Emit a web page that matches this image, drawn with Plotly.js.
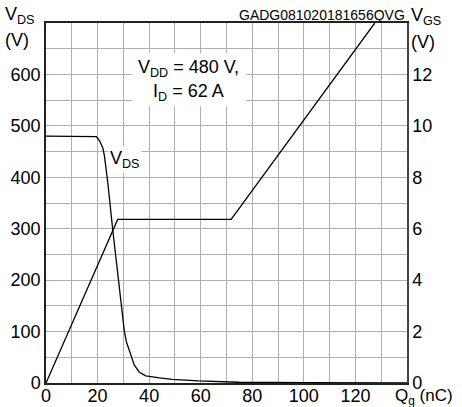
<!DOCTYPE html>
<html>
<head>
<meta charset="utf-8">
<script src="https://cdn.plot.ly/plotly-3.0.1.min.js"></script>
<style>html,body{margin:0;padding:0;background:#fff;}#chart{width:462px;height:407px;}</style>
</head>
<body>
<div id="chart"></div>
<script>
// Gate charge data
const qgVds = [0, 18.2, 19.5, 20.8, 22.1, 22.7, 24, 25.9, 27.5, 29.1, 30.4, 31.2, 32.3, 34.2, 36.2, 38.7, 44, 49, 59.2, 74.6, 100, 130, 140];
const vds   = [480, 480, 479, 471, 456, 440, 388, 297, 228, 161, 100, 80, 64, 35, 21, 14, 10, 7, 4, 1.5, 0.6, 0.2, 0.1];
const qgVgs = [0, 27.8, 71.8, 127.5];
const vgs   = [0, 6.36, 6.36, 14];
const xTicks = [0, 20, 40, 60, 80, 100, 120];
const xGrid = [10, 20, 30, 40, 50, 60, 70, 80, 90, 100, 110, 120, 130];
const yTicks = [0, 100, 200, 300, 400, 500, 600];
const yGrid = [50, 100, 150, 200, 250, 300, 350, 400, 450, 500, 550, 600, 650];
const y2Ticks = [0, 2, 4, 6, 8, 10, 12];

const F = 'Liberation Sans, Arial, sans-serif';
const fs = 18;
const gridCol = 'rgb(175,175,175)';

const traces = [
  {x: [], y: [], type: 'scatter', mode: 'lines', xaxis: 'x2', yaxis: 'y3', hoverinfo: 'skip'},
  {x: qgVds, y: vds, type: 'scatter', mode: 'lines', line: {color: '#000', width: 1.3}, yaxis: 'y', hoverinfo: 'skip'},
  {x: qgVgs, y: vgs, type: 'scatter', mode: 'lines', line: {color: '#000', width: 1.3}, yaxis: 'y2', hoverinfo: 'skip'}
];

const layout = {
  width: 462, height: 407,
  margin: {l: 46, r: 55, t: 23, b: 24},
  showlegend: false,
  font: {family: F, size: fs, color: '#000'},
  xaxis: {
    range: [0, 140], tickmode: 'array', tickvals: xTicks, ticktext: xTicks.map(String),
    showgrid: false,
    showline: true, linecolor: '#222', linewidth: 1.5, mirror: true,
    ticks: '', ticklabelstandoff: -4, zeroline: false, tickfont: {family: F, size: fs, color: '#000'}
  },
  yaxis: {
    range: [0, 700], tickmode: 'array', tickvals: yTicks, ticktext: yTicks.map(String),
    showgrid: false,
    showline: true, linecolor: '#222', linewidth: 1.5, mirror: true,
    ticks: '', zeroline: false, tickfont: {family: F, size: fs, color: '#000'}
  },
  xaxis2: {
    overlaying: 'x', anchor: 'y3', range: [0, 140], tickmode: 'array', tickvals: xGrid,
    showticklabels: false, ticks: '', showgrid: true, gridcolor: gridCol, gridwidth: 1,
    zeroline: false, showline: false, tickfont: {size: 8}
  },
  yaxis3: {
    overlaying: 'y', anchor: 'x2', range: [0, 700], tickmode: 'array', tickvals: yGrid,
    showticklabels: false, ticks: '', showgrid: true, gridcolor: gridCol, gridwidth: 1,
    zeroline: false, showline: false, tickfont: {size: 8}
  },
  yaxis2: {
    range: [0, 14], tickmode: 'array', tickvals: y2Ticks, ticktext: y2Ticks.map(String),
    overlaying: 'y', side: 'right', showgrid: false, zeroline: false,
    showline: true, linecolor: '#444', linewidth: 1.5,
    ticks: '', tickfont: {family: F, size: fs, color: '#000'}
  },
  shapes: [
    {type: 'rect', xref: 'x', yref: 'y', x0: 33.5, x1: 77.7, y0: 538, y1: 641,
     fillcolor: '#fff', line: {width: 0}, layer: 'between'}
  ],
  annotations: [
    {xref: 'x', yref: 'y', x: 55.4, y: 612, text: 'V<sub>DD</sub> = 480 V,',
     showarrow: false, font: {family: F, size: fs, color: '#000'}},
    {xref: 'x', yref: 'y', x: 55.4, y: 564, text: 'I<sub>D</sub> = 62 A',
     showarrow: false, font: {family: F, size: fs, color: '#000'}},
    {xref: 'x', yref: 'y', x: 30.8, y: 435, text: 'V<sub>DS</sub>', showarrow: false,
     bgcolor: '#fff', font: {family: F, size: fs, color: '#000'}},
    {xref: 'paper', yref: 'paper', x: 1, y: 1, xanchor: 'right', yanchor: 'bottom', yshift: -2,
     text: 'GADG081020181656QVG', showarrow: false, font: {family: F, size: 14, color: '#000'}},
    {xref: 'paper', yref: 'paper', x: -0.12, y: 1.02, xanchor: 'left', yanchor: 'middle',
     text: 'V<sub>DS</sub>', showarrow: false, font: {family: F, size: fs, color: '#000'}},
    {xref: 'paper', yref: 'paper', x: -0.12, y: 0.953, xanchor: 'left', yanchor: 'middle',
     text: '(V)', showarrow: false, font: {family: F, size: fs, color: '#000'}},
    {xref: 'paper', yref: 'paper', x: 1.005, y: 1.017, xanchor: 'left', yanchor: 'middle',
     text: 'V<sub>GS</sub>', showarrow: false, font: {family: F, size: fs, color: '#000'}},
    {xref: 'paper', yref: 'paper', x: 1.005, y: 0.947, xanchor: 'left', yanchor: 'middle',
     text: '(V)', showarrow: false, font: {family: F, size: fs, color: '#000'}},
    {xref: 'paper', yref: 'paper', x: 0.962, y: -0.04, xanchor: 'left', yanchor: 'middle',
     text: 'Q<sub>g</sub> (nC)', showarrow: false, font: {family: F, size: 17, color: '#000'}}
  ]
};

Plotly.newPlot('chart', traces, layout, {displayModeBar: false});
</script>
</body>
</html>
